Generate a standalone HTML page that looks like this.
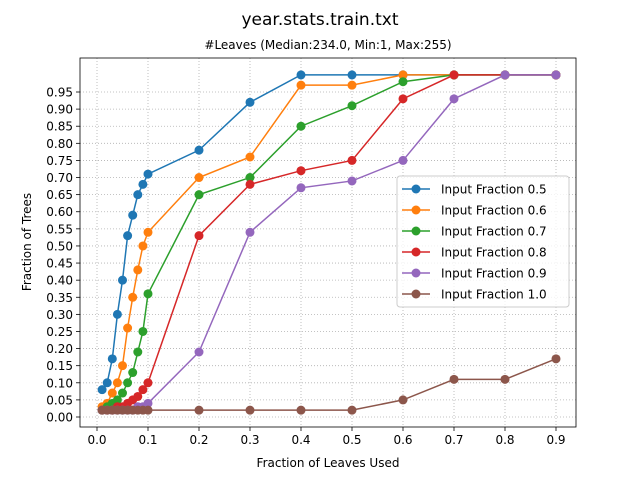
<!DOCTYPE html>
<html><head><meta charset="utf-8"><style>body{margin:0;background:#fff}svg{display:block;font-family:"DejaVu Sans","Liberation Sans",sans-serif}</style></head>
<body>
<svg id="c" width="640" height="480"></svg>
<script>
const xVals=[0.01,0.02,0.03,0.04,0.05,0.06,0.07,0.08,0.09,0.1,0.2,0.3,0.4,0.5,0.6,0.7,0.8,0.9];
const s05=[0.08,0.10,0.17,0.30,0.40,0.53,0.59,0.65,0.68,0.71,0.78,0.92,1,1,1,1,1,1];
const s06=[0.03,0.04,0.07,0.10,0.15,0.26,0.35,0.43,0.50,0.54,0.70,0.76,0.97,0.97,1,1,1,1];
const s07=[0.02,0.03,0.04,0.05,0.07,0.10,0.13,0.19,0.25,0.36,0.65,0.70,0.85,0.91,0.98,1,1,1];
const s08=[0.02,0.02,0.02,0.03,0.03,0.04,0.05,0.06,0.08,0.10,0.53,0.68,0.72,0.75,0.93,1,1,1];
const s09=[0.02,0.02,0.02,0.02,0.02,0.02,0.02,0.03,0.03,0.04,0.19,0.54,0.67,0.69,0.75,0.93,1,1];
const s10=[0.02,0.02,0.02,0.02,0.02,0.02,0.02,0.02,0.02,0.02,0.02,0.02,0.02,0.02,0.05,0.11,0.11,0.17];
const seriesNames=["Input Fraction 0.5","Input Fraction 0.6","Input Fraction 0.7","Input Fraction 0.8","Input Fraction 0.9","Input Fraction 1.0"];
const colors=["#1f77b4","#ff7f0e","#2ca02c","#d62728","#9467bd","#8c564b"];
const xTicks=[0,0.1,0.2,0.3,0.4,0.5,0.6,0.7,0.8,0.9];
const yTicks=[0,0.05,0.1,0.15,0.2,0.25,0.3,0.35,0.4,0.45,0.5,0.55,0.6,0.65,0.7,0.75,0.8,0.85,0.9,0.95];
const all=[s05,s06,s07,s08,s09,s10];
const L=80,T=58,R=576,B=427;
const X=v=>97+v*510, Y=v=>417-v*342.1;
const svg=document.getElementById('c');const NS='http://www.w3.org/2000/svg';
function el(t,a,txt){const e=document.createElementNS(NS,t);for(const k in a)e.setAttribute(k,a[k]);if(txt!=null)e.textContent=txt;svg.appendChild(e);return e;}
let e;
e=el('text',{x:320,y:25,'text-anchor':'middle','font-size':17},'year.stats.train.txt');


e=el('text',{x:328,y:49,'text-anchor':'middle','font-size':12},'#Leaves (Median:234.0, Min:1, Max:255)');


xTicks.forEach(v=>{const x=X(v);
el('line',{x1:x,y1:T,x2:x,y2:B,stroke:'#b0b0b0','stroke-width':0.8,'stroke-dasharray':'1,2'});
el('line',{x1:x,y1:B,x2:x,y2:B+4,stroke:'#000','stroke-width':0.8});
e=el('text',{x:x,y:B+17,'text-anchor':'middle','font-size':12},v.toFixed(1));

});
yTicks.forEach(v=>{const y=Y(v);
el('line',{x1:L,y1:y,x2:R,y2:y,stroke:'#b0b0b0','stroke-width':0.8,'stroke-dasharray':'1,2'});
el('line',{x1:L-4,y1:y,x2:L,y2:y,stroke:'#000','stroke-width':0.8});
e=el('text',{x:L-7,y:y+4.5,'text-anchor':'end','font-size':12},v.toFixed(2));

});
e=el('rect',{x:L,y:T,width:R-L,height:B-T,fill:'none',stroke:'#000','stroke-width':0.8});


all.forEach((s,i)=>{
e=el('polyline',{points:s.map((v,j)=>X(xVals[j])+','+Y(v)).join(' '),fill:'none',stroke:colors[i],'stroke-width':1.5});


s.forEach((v,j)=>{e=el('circle',{cx:X(xVals[j]),cy:Y(v),r:4.5,fill:colors[i]});

});
});
e=el('text',{x:328,y:467,'text-anchor':'middle','font-size':12},'Fraction of Leaves Used');


e=el('text',{x:31,y:242,'text-anchor':'middle','font-size':12,transform:'rotate(-90 31 242)'},'Fraction of Trees');


e=el('rect',{x:397,y:176,width:172,height:131,rx:3,fill:'#fff','fill-opacity':0.8,stroke:'#ccc'});


seriesNames.forEach((n,i)=>{const y=189+i*21;
el('line',{x1:402,y1:y,x2:430,y2:y,stroke:colors[i],'stroke-width':1.5});
el('circle',{cx:416,cy:y,r:4.5,fill:colors[i]});
e=el('text',{x:441,y:y+4.5,'font-size':12},n);

});
</script>
</body></html>
